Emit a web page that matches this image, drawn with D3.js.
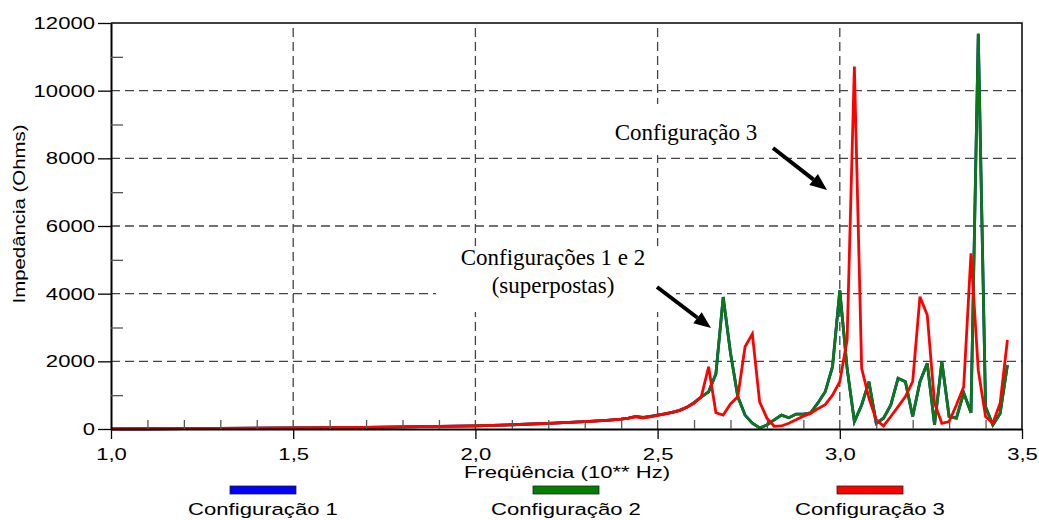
<!DOCTYPE html>
<html>
<head>
<meta charset="utf-8">
<script src="https://cdn.jsdelivr.net/npm/d3@7"></script>
<style>
  body { margin: 0; background: #fff; }
  svg { display: block; }
</style>
</head>
<body>
<div id="outer"></div>
<script>
////////// DATA //////////
const freq = [1.0, 1.1, 1.2, 1.3, 1.4, 1.5, 1.6, 1.7, 1.8, 1.9, 2.0, 2.1, 2.2, 2.3, 2.36,
  2.40, 2.42, 2.44, 2.46, 2.48, 2.50, 2.52, 2.54, 2.56, 2.58, 2.60, 2.62, 2.64, 2.66, 2.68,
  2.70, 2.72, 2.74, 2.76, 2.78, 2.80, 2.82, 2.84, 2.86, 2.88, 2.90, 2.92, 2.94, 2.96, 2.98,
  3.00, 3.02, 3.04, 3.06, 3.08, 3.10, 3.12, 3.14, 3.16, 3.18, 3.20, 3.22, 3.24, 3.26, 3.28,
  3.30, 3.32, 3.34, 3.36, 3.38, 3.40, 3.42, 3.44, 3.46];

// config 1 sits under config 2 (superpostas)
const impConfig1 = [5, 8, 12, 16, 22, 30, 38, 48, 60, 75, 95, 125, 165, 215, 255,
  290, 320, 370, 340, 370, 410, 450, 490, 550, 640, 780, 950, 1100, 1630, 3900,
  2250, 960, 410, 170, 30, 120, 270, 410, 330, 440, 440, 480, 770, 1100, 1840,
  4100, 1800, 220, 710, 1400, 170, 320, 710, 1500, 1400, 370, 1400, 1940, 120, 1990,
  370, 320, 1070, 480, 11680, 660, 120, 460, 1890];

const impConfig2 = [5, 8, 12, 16, 22, 30, 38, 48, 60, 75, 95, 125, 165, 215, 255,
  290, 320, 370, 340, 370, 410, 450, 490, 550, 640, 780, 950, 1100, 1630, 3900,
  2250, 960, 410, 170, 30, 120, 270, 410, 330, 440, 440, 480, 770, 1100, 1840,
  4100, 1800, 220, 710, 1400, 170, 320, 710, 1500, 1400, 370, 1400, 1940, 120, 1990,
  370, 320, 1070, 480, 11680, 660, 120, 460, 1890];

const impConfig3 = [5, 8, 12, 16, 22, 30, 38, 48, 60, 75, 95, 125, 165, 215, 255,
  290, 320, 360, 320, 360, 400, 450, 490, 540, 640, 760, 960, 1840, 480, 410,
  740, 950, 2430, 2810, 800, 320, 80, 90, 170, 270, 380, 460, 600, 720, 1000,
  1400, 2630, 10710, 1790, 910, 270, 90, 370, 660, 960, 1400, 3910, 3370, 760, 170,
  220, 710, 1250, 5190, 1740, 370, 170, 760, 2630];

const seriesNames = ['Configuração 1', 'Configuração 2', 'Configuração 3'];
const seriesColors = ['#0000ff', '#0a7a12', '#ff0000'];
const legendFill = ['#0000ff', '#007f00', '#ff0000'];

const xTicks = [1.0, 1.5, 2.0, 2.5, 3.0, 3.5];
const xMinorTicks = [1.1, 1.2, 1.3, 1.4, 1.6, 1.7, 1.8, 1.9, 2.1, 2.2, 2.3, 2.4, 2.6, 2.7, 2.8, 2.9, 3.1, 3.2, 3.3, 3.4];
const yTicks = [0, 2000, 4000, 6000, 8000, 10000, 12000];
const yMinorTicks = [1000, 3000, 5000, 7000, 9000, 11000];

////////// SIZING //////////
const width = 1039, height = 520;
const plot = {left: 111, right: 1022, top: 23, bottom: 429};
const sansFont = '"Liberation Sans", Arial, Helvetica, sans-serif';
const serifFont = '"Liberation Serif", "Times New Roman", serif';
const stretch = 1.3;   // the sans text in the picture is wide

const svg = d3.select('#outer').append('svg')
  .attr('width', width)
  .attr('height', height);

const x = d3.scaleLinear().domain([1.0, 3.5]).range([plot.left, plot.right]);
const y = d3.scaleLinear().domain([0, 12000]).range([plot.bottom, plot.top]);

// GRID //
const grid = svg.append('g').attr('class', 'grid')
  .attr('stroke', '#444')
  .attr('stroke-width', 1.3)
  .attr('stroke-dasharray', '9,5');
grid.selectAll('.vgrid').data(xTicks.slice(1, -1)).join('line')
  .attr('x1', d => x(d)).attr('x2', d => x(d))
  .attr('y1', plot.bottom).attr('y2', plot.top);
grid.selectAll('.hgrid').data(yTicks.slice(1, -1)).join('line')
  .attr('x1', plot.left).attr('x2', plot.right)
  .attr('y1', d => y(d)).attr('y2', d => y(d));

// white boxes behind annotations
svg.append('rect').attr('x', 603).attr('y', 104).attr('width', 190).attr('height', 51).attr('fill', '#fff');
svg.append('rect').attr('x', 436).attr('y', 246).attr('width', 240).attr('height', 66).attr('fill', '#fff');

// CURVES //
const seriesData = [impConfig1, impConfig2, impConfig3];
const line = d3.line()
  .x((d, i) => x(freq[i]))
  .y(d => y(d));
svg.append('g').selectAll('path').data(seriesData).join('path')
  .attr('fill', 'none')
  .attr('stroke', (d, i) => seriesColors[i])
  .attr('stroke-width', 2.8)
  .attr('stroke-linejoin', 'miter')
  .attr('d', line);

// AXES //
const fmtX = d => d3.format('.1f')(d).replace('.', ',');

const yAxis = svg.append('g').attr('transform', `translate(${plot.left},0)`)
  .call(d3.axisLeft(y).tickValues(yTicks).tickSize(13).tickSizeOuter(0).tickFormat(d3.format('d')));
yAxis.select('.domain').attr('stroke-width', 2);
yAxis.selectAll('.tick line').attr('stroke-width', 1.3);
yAxis.selectAll('.tick text')
  .attr('x', -16 / stretch)
  .attr('transform', `scale(${stretch},1)`)
  .attr('font-family', sansFont)
  .attr('font-size', 17)
  .attr('fill', '#000');

const yMinor = svg.append('g').attr('transform', `translate(${plot.left},0)`)
  .call(d3.axisRight(y).tickValues(yMinorTicks).tickSize(12).tickFormat(''));
yMinor.select('.domain').remove();
yMinor.selectAll('.tick line').attr('stroke', '#555').attr('stroke-width', 1.3);

const xAxis = svg.append('g').attr('transform', `translate(0,${plot.bottom})`)
  .call(d3.axisBottom(x).tickValues(xTicks).tickSize(10).tickSizeOuter(0).tickFormat(fmtX));
xAxis.select('.domain').attr('stroke-width', 2);
xAxis.selectAll('.tick line').attr('stroke-width', 1.3);
xAxis.selectAll('.tick text')
  .attr('y', 31).attr('dy', 0)
  .attr('transform', `scale(${stretch},1)`)
  .attr('font-family', sansFont)
  .attr('font-size', 17)
  .attr('fill', '#000');

const xMinor = svg.append('g').attr('transform', `translate(0,${plot.bottom})`)
  .call(d3.axisTop(x).tickValues(xMinorTicks).tickSize(9).tickFormat(''));
xMinor.select('.domain').remove();
xMinor.selectAll('.tick line').attr('stroke', '#555').attr('stroke-width', 1.3);

// frame top/right
svg.append('path')
  .attr('d', `M${plot.left},${plot.top}H${plot.right}V${plot.bottom}`)
  .attr('fill', 'none')
  .attr('stroke', '#000')
  .attr('stroke-width', 1.5);

// AXIS TITLES //
svg.append('text')
  .attr('transform', `translate(567,478) scale(${stretch},1)`)
  .attr('text-anchor', 'middle')
  .attr('font-family', sansFont)
  .attr('font-size', 17)
  .text('Freqüência (10** Hz)');

svg.append('text')
  .attr('transform', 'translate(25,214) rotate(-90) scale(1.2,1)')
  .attr('text-anchor', 'middle')
  .attr('font-family', sansFont)
  .attr('font-size', 17)
  .text('Impedância (Ohms)');

// ANNOTATIONS //
const annot = svg.append('g').attr('font-family', serifFont).attr('font-size', 23).attr('fill', '#000');
annot.append('text').attr('x', 686).attr('y', 140).attr('text-anchor', 'middle').text('Configuração 3');
annot.append('text').attr('x', 553).attr('y', 265).attr('text-anchor', 'middle').text('Configurações 1 e 2');
annot.append('text').attr('x', 553).attr('y', 293).attr('text-anchor', 'middle').text('(superpostas)');

function arrow(x1, y1, x2, y2) {
  const ang = Math.atan2(y2 - y1, x2 - x1);
  const headLen = 17, headHalf = 7;
  const bx = x2 - headLen * Math.cos(ang), by = y2 - headLen * Math.sin(ang);
  svg.append('line')
    .attr('x1', x1).attr('y1', y1).attr('x2', bx).attr('y2', by)
    .attr('stroke', '#000').attr('stroke-width', 4);
  const px = -Math.sin(ang) * headHalf, py = Math.cos(ang) * headHalf;
  svg.append('path')
    .attr('d', `M${x2},${y2}L${bx + px},${by + py}L${bx - px},${by - py}Z`)
    .attr('fill', '#000');
}
arrow(773, 148, 827, 190);
arrow(657, 287, 711, 328);

// LEGEND //
const legendX = [263, 566, 870];
const legend = svg.append('g').selectAll('g').data(seriesNames).join('g')
  .attr('transform', (d, i) => `translate(${legendX[i]},0)`);
legend.append('rect')
  .attr('x', -33).attr('y', 486).attr('width', 66).attr('height', 8)
  .attr('fill', (d, i) => legendFill[i])
  .attr('stroke', '#222').attr('stroke-width', 0.8);
legend.append('text')
  .attr('transform', `translate(0,515) scale(${stretch},1)`)
  .attr('text-anchor', 'middle')
  .attr('font-family', sansFont)
  .attr('font-size', 17)
  .text(d => d);
</script>
</body>
</html>
